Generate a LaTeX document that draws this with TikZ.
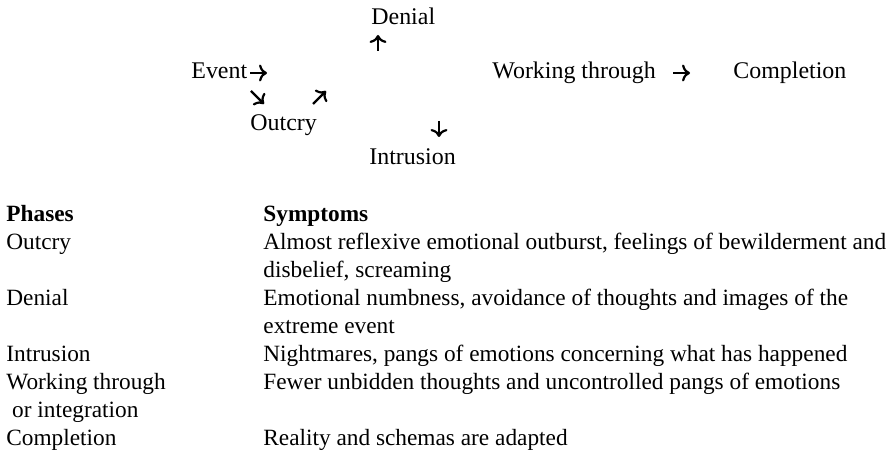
\documentclass[tikz,border=0pt]{standalone}
\usepackage{fontspec}
\setmainfont{Liberation Serif}
\usetikzlibrary{arrows.meta}

\tikzset{
  phase/.style={anchor=base west, inner sep=0pt, font=\fontsize{12}{14}\selectfont},
  row/.style={anchor=base west, inner sep=0pt, font=\fontsize{11.7}{14}\selectfont},
  head/.style={row, font=\fontsize{11.7}{14}\selectfont\bfseries},
  glyph/.style={-{To[length=4pt,width=8.5pt]}, line width=1.1pt},
}

\begin{document}
\begin{tikzpicture}[x=0.5bp,y=-0.5bp]
    \useasboundingbox (0,0) rectangle (896,456);
    % the five phases
    \node[phase] (denial) at (371,25) {Denial};
    \node[phase] (event) at (191,79) {Event};
    \node[phase] (outcry) at (250,131) {Outcry};
    \node[phase] (intrusion) at (369,165) {Intrusion};
    \node[phase] (working) at (492,79) {Working through};
    \node[phase] (completion) at (733,79) {Completion};
    % small arrows between them
    \coordinate (a1) at (250,73);
    \coordinate (a2) at (378,51);
    \coordinate (a3) at (251,91);
    \coordinate (a4) at (313,104);
    \coordinate (a5) at (439,121);
    \coordinate (a6) at (673,73);
    \draw[glyph] (a1) -- ++(17,0);
    \draw[glyph] (a2) -- ++(0,-16);
    \draw[glyph] (a3) -- ++(13,13);
    \draw[glyph] (a4) -- ++(13,-13);
    \draw[glyph] (a5) -- ++(0,16);
    \draw[glyph] (a6) -- ++(17,0);
    % table of phases and symptoms
    \node[head] (hphase) at (6,222) {Phases};
    \node[head] (hsympt) at (263,222) {Symptoms};
    \node[row] (p1) at (6,250) {Outcry};
    \node[row] (s1) at (263,250) {Almost reflexive emotional outburst, feelings of bewilderment and};
    \node[row] (s1b) at (263,278) {disbelief, screaming};
    \node[row] (p2) at (6,306) {Denial};
    \node[row] (s2) at (263,306) {Emotional numbness, avoidance of thoughts and images of the};
    \node[row] (s2b) at (263,334) {extreme event};
    \node[row] (p3) at (6,362) {Intrusion};
    \node[row] (s3) at (263,362) {Nightmares, pangs of emotions concerning what has happened};
    \node[row] (p4) at (6,390) {Working through};
    \node[row] (p4b) at (6,418) {\ or integration};
    \node[row] (s4) at (263,390) {Fewer unbidden thoughts and uncontrolled pangs of emotions};
    \node[row] (p5) at (6,446) {Completion};
    \node[row] (s5) at (263,446) {Reality and schemas are adapted};
\end{tikzpicture}
\end{document}
